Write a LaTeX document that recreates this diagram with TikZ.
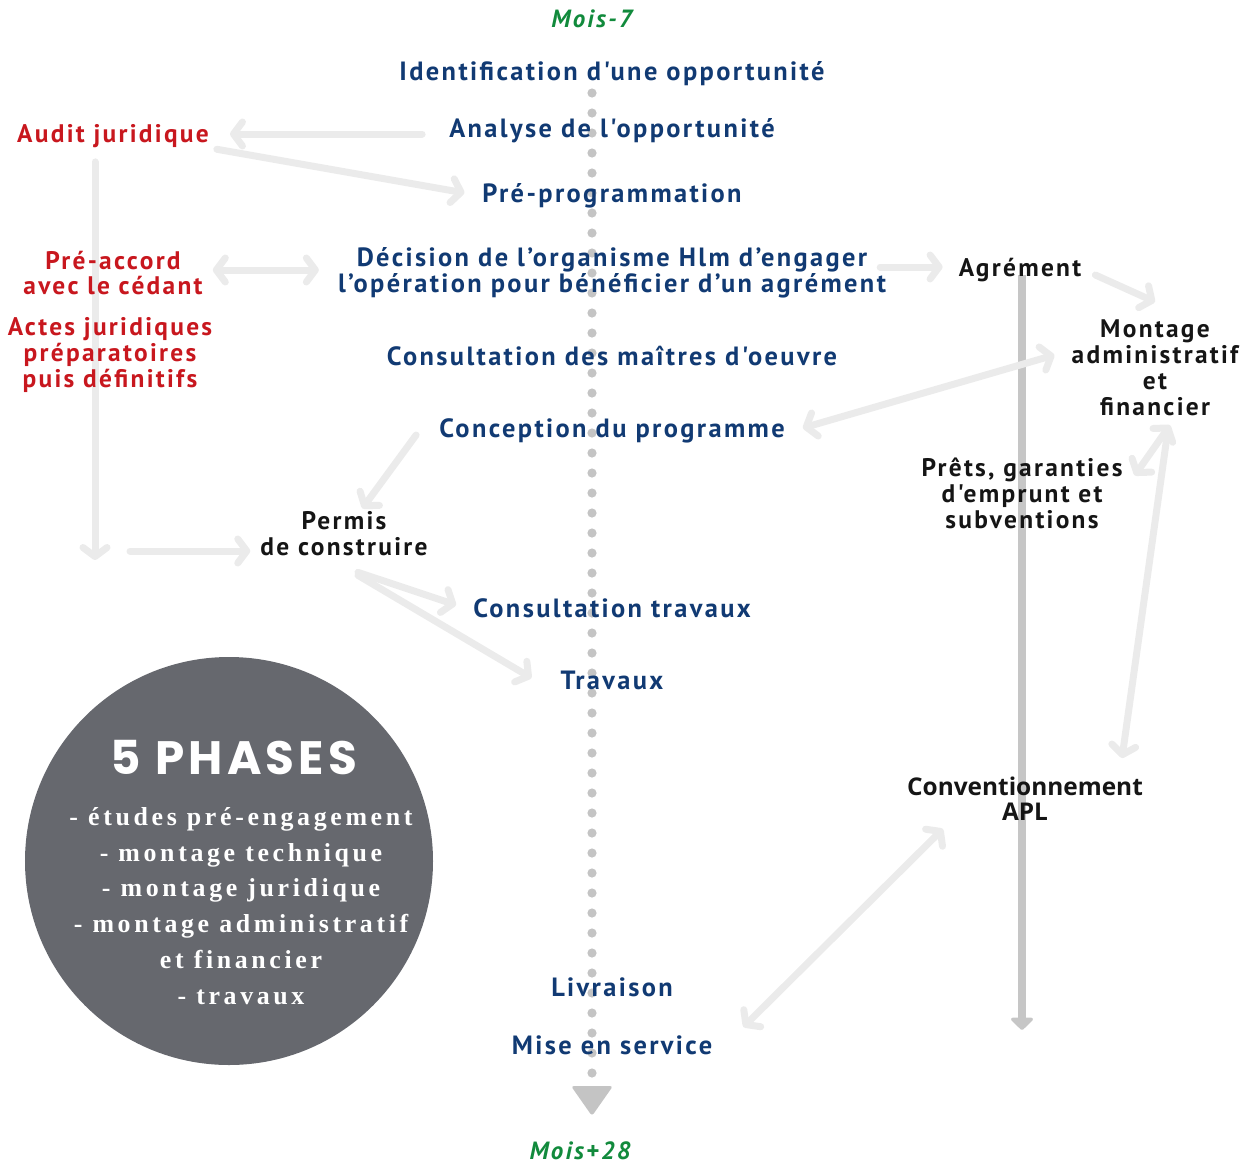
\documentclass[tikz,border=0pt]{standalone}
\usepackage{fontspec}
\newfontfamily\ptsans{PT Sans}[LetterSpace=9]
\newfontfamily\opensans{Open Sans}
\newfontfamily\phasefont{Poppins}[LetterSpace=9]
\newfontfamily\listefont{Liberation Serif}[LetterSpace=14]
\usepackage{tikz}
\usetikzlibrary{arrows.meta,positioning,calc,backgrounds}
\definecolor{navy}{HTML}{113A73}
\definecolor{juriRed}{HTML}{C8171E}
\definecolor{moisGreen}{HTML}{118A3C}
\definecolor{inkBlack}{HTML}{151515}
\definecolor{lightArrow}{HTML}{EBEBEB}
\definecolor{lineGray}{HTML}{C6C6C6}
\definecolor{dotGray}{HTML}{C4C4C4}
\definecolor{phaseGray}{HTML}{66686E}

\tikzset{
  etape/.style={font=\ptsans\bfseries\fontsize{26.5}{26}\selectfont, text=navy, align=center, inner sep=0pt},
  juri/.style={etape, text=juriRed, font=\ptsans\bfseries\fontsize{25.5}{26}\selectfont},
  acteur/.style={etape, text=inkBlack, font=\ptsans\bfseries\fontsize{25.5}{26}\selectfont},
  mois/.style={font=\ptsans\bfseries\itshape\fontsize{25}{25}\selectfont, text=moisGreen, inner sep=0pt},
  lien/.style={draw=lightArrow, line width=7bp, line cap=round, -{Straight Barb[round,length=9bp,width=24bp]}},
  lienbi/.style={lien, {Straight Barb[round,length=9bp,width=24bp]}-{Straight Barb[round,length=9bp,width=24bp]}},
  grisligne/.style={draw=lineGray, line width=8bp, -{Triangle[round,length=13bp,width=26bp]}}
}

\begin{document}
\begin{tikzpicture}[x=1bp,y=-1bp]
\useasboundingbox (0,0) rectangle (1249,1165);
%%%%% Time line %%%%%
\foreach \y in {93,113,...,1073}{
  \fill[dotGray] (592,\y) circle (4.6bp);
}
\fill[dotGray, rounded corners=3bp] (571,1086) -- (613,1086) -- (592,1116) -- cycle;

%%%%% Central steps %%%%%
\node[mois] (debut) at (592,19) {Mois-7};
\node[etape] (identif) at (612,74) {Identification d'une opportunité};
\node[etape] (analyse) at (612,131) {Analyse de l'opportunité};
\node[etape] (preprog) at (612,196) {Pré-programmation};
\node[etape] (decision) at (612,273) {Décision de l’organisme Hlm d’engager\\l’opération pour bénéficier d’un agrément};
\node[etape] (consultmo) at (612,356) {Consultation des maîtres d'oeuvre};
\node[etape] (conception) at (612,431) {Conception du programme};
\node[etape] (consulttrav) at (612,608) {Consultation travaux};
\node[etape] (travaux) at (612,680) {Travaux};
\node[etape] (livraison) at (612,987) {Livraison};
\node[etape] (mise) at (612,1045) {Mise en service};
\node[mois] (fin) at (580,1151) {Mois+28};

%%%%% Juridique %%%%%
\node[juri] (audit) at (113,136) {Audit juridique};
\node[juri] (preaccord) at (113,273) {Pré-accord\\avec le cédant};
\node[juri] (actes) at (110,355) {Actes juridiques\\préparatoires\\puis définitifs};
\node[acteur] (permis) at (344,534) {Permis\\de construire};

%%%%% Administratif %%%%%
\node[acteur] (agrement) at (1020,270) {Agrément};
\node[acteur] (montage) at (1155,368) {Montage\\administratif\\et\\financier};
\node[acteur] (prets) at (1022,493) {Prêts, garanties\\d'emprunt et\\subventions};
\node[acteur, font=\opensans\bfseries\fontsize{24.5}{25}\selectfont] (conv) at (1025,799) {Conventionnement\\APL};

%%%%% 5 phases %%%%%
\node[circle, fill=phaseGray, minimum size=408bp, inner sep=0pt] (phases) at (229,861) {};
\node[font=\phasefont\bfseries\fontsize{47}{47}\selectfont, text=white, inner sep=0pt] (titre) at (234,758) {5 PHASES};
\node[font=\listefont\bfseries\fontsize{26}{36}\selectfont, text=white, align=center, inner sep=0pt] (liste) at (241,906)
  {- études pré-engagement\\- montage technique\\- montage juridique\\- montage administratif\\et financier\\- travaux};

%%%%% Arrows %%%%%
\begin{pgfonlayer}{background}
\coordinate (actesbas) at (95,560);
\coordinate (actesdepart) at (130,551);
\coordinate (agrementbas) at (1022,1030);
\draw[grisligne, shorten <=5bp] (agrement.center -| agrementbas) -- (agrementbas);
\draw[lien, shorten <=27bp, shorten >=21bp] ([yshift=-3bp]analyse.west) -- ([yshift=-3bp]analyse.west -| audit.east);
\draw[lien, shorten <=8bp, shorten >=18bp] (audit.south east) -- (preprog.west);
\draw[lienbi, shorten <=10bp, shorten >=19bp] ([yshift=3bp]preaccord.east) -- ([yshift=3bp]preaccord.east -| decision.west);
\draw[lien, shorten <=14bp] (audit.south -| actesbas) -- (actesbas);
\draw[lien, shorten >=10bp] (actesdepart) -- (actesdepart -| permis.west);
\draw[lien, shorten >=4bp] ([xshift=-23bp,yshift=-4bp]conception.west) -- ([xshift=16bp]permis.north);
\draw[lien] ([xshift=14bp,yshift=-16bp]permis.south) -- ([xshift=-17bp,yshift=3bp]consulttrav.west);
\draw[lien] ([xshift=14bp,yshift=-19bp]permis.south) -- ([xshift=-29bp,yshift=2bp]travaux.west);
\draw[lien, shorten <=-6bp, shorten >=16bp] ([yshift=3bp]decision.east |- agrement.west) -- ([yshift=3bp]agrement.west);
\draw[lien] ([xshift=14bp,yshift=-5bp]agrement.east) -- ([yshift=18bp]montage.north);
\draw[lienbi] ([xshift=18bp,yshift=3bp]conception.east) -- ([xshift=-17bp,yshift=13bp]montage.west);
\draw[lienbi] ([xshift=12bp,yshift=-18bp]prets.north east) -- ([xshift=15bp,yshift=-9bp]montage.south);
\draw[lien] ([xshift=13bp,yshift=-13bp]montage.south) -- ([xshift=97bp,yshift=19bp]conv.north);
\draw[lienbi] ([xshift=31bp,yshift=18bp]mise.east) -- ([xshift=36bp,yshift=-8bp]conv.south west);
\end{pgfonlayer}
\end{tikzpicture}
\end{document}
